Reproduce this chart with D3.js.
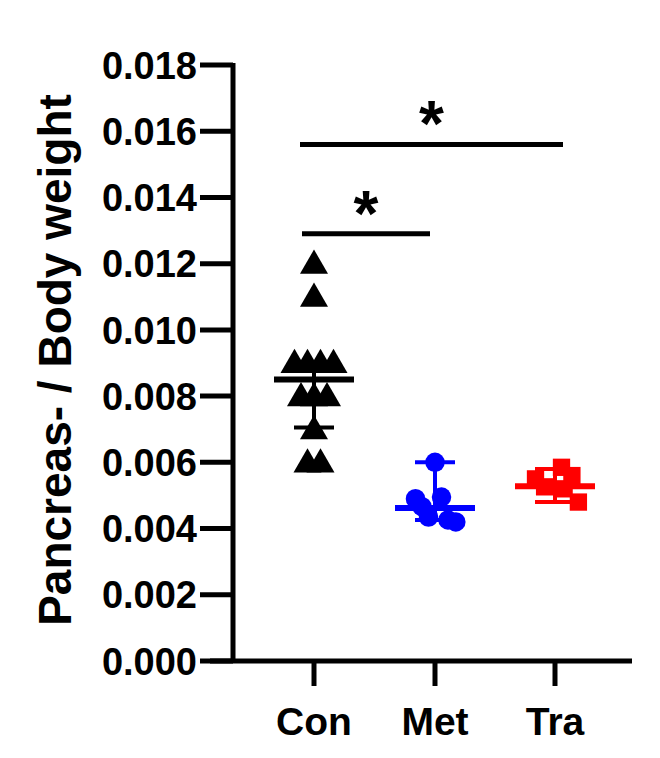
<!DOCTYPE html><html><head><script src="https://cdn.jsdelivr.net/npm/d3@7"></script>
<style>body{margin:0;background:#fff}</style></head><body><svg id="c" width="660" height="758"></svg>
<script>
const categories=["Con","Met","Tra"];
const colors=["#000","#0000ff","#ff0000"];
const conVals=[0.012,0.011,0.009,0.009,0.009,0.009,0.008,0.008,0.008,0.007,0.006,0.006];
const conX=[0,0,-1.5,-0.5,0.5,1.5,-1,0,1,0,-0.5,0.5];
const metVals=[0.006,0.0049,0.00466,0.00435,0.00495,0.00426,0.0042];
const metX=[0,-1.5,-1,-0.5,0.5,1,1.6];
const traVals=[0.00585,0.0055,0.00526,0.0052,0.0056,0.0048];
const traX=[0.5,-1.5,-0.8,0.7,1.3,1.8];
const centers=[0.0085,0.00462,0.00528];
const lows=[0.00705,0.00426,0.0048];
const highs=[0.009,0.006,0.0058];
const yTicks=[0,0.002,0.004,0.006,0.008,0.010,0.012,0.014,0.016,0.018];
const svg=d3.select("#c");
const y=d3.scaleLinear().domain([0,0.018]).range([661,65]);
const x=d3.scaleOrdinal().domain(categories).range([314,435,555]);
const jit=10;
const F="Liberation Sans, Arial";
const ax=svg.append("g").attr("stroke","#000").attr("stroke-width",5);
ax.append("line").attr("x1",233).attr("x2",233).attr("y1",y(0.018)-2).attr("y2",661);
ax.append("line").attr("x1",210).attr("x2",632).attr("y1",661).attr("y2",661);
yTicks.forEach(t=>{ax.append("line").attr("x1",200).attr("x2",233).attr("y1",y(t)).attr("y2",y(t));
 svg.append("text").attr("x",197).attr("y",y(t)).attr("dy","0.36em").attr("text-anchor","end")
 .attr("font-family",F).attr("font-weight","bold").attr("font-size",38).text(t.toFixed(3));});
categories.forEach(c=>{ax.append("line").attr("x1",x(c)).attr("x2",x(c)).attr("y1",661).attr("y2",686);
 svg.append("text").attr("x",x(c)).attr("y",735).attr("text-anchor","middle")
 .attr("font-family",F).attr("font-weight","bold").attr("font-size",39).text(c);});
svg.append("text").attr("transform","translate(71,360) rotate(-90)").attr("text-anchor","middle")
 .attr("font-family",F).attr("font-weight","bold").attr("font-size",46).text("Pancreas- / Body weight");
const groups=[[conVals,conX,d3.symbolTriangle,340],[metVals,metX,d3.symbolCircle,300],[traVals,traX,d3.symbolSquare,300]];
groups.forEach((g,i)=>{const [vals,xs,sym,size]=g;
 vals.forEach((v,j)=>svg.append("path").attr("d",d3.symbol(sym,size)())
 .attr("transform",`translate(${x(categories[i])+xs[j]*jit*1.3},${y(v)+(sym===d3.symbolTriangle?2:0)})`).attr("fill",colors[i]));});
categories.forEach((c,i)=>{const g=svg.append("g").attr("stroke",colors[i]).attr("stroke-width",4);const cx=x(c);
 g.append("line").attr("x1",cx).attr("x2",cx).attr("y1",y(highs[i])).attr("y2",y(lows[i]));
 g.append("line").attr("x1",cx-40).attr("x2",cx+40).attr("y1",y(centers[i])).attr("y2",y(centers[i])).attr("stroke-width",6);
 [highs[i],lows[i]].forEach(v=>g.append("line").attr("x1",cx-20).attr("x2",cx+20).attr("y1",y(v)).attr("y2",y(v)));});
[[0,1,0.0129,302,430],[0,2,0.0156,300,563]].forEach(s=>{
 svg.append("line").attr("x1",s[3]).attr("x2",s[4]).attr("y1",y(s[2])).attr("y2",y(s[2])).attr("stroke","#000").attr("stroke-width",5);
 svg.append("text").attr("x",(s[3]+s[4])/2).attr("y",y(s[2])+2).attr("text-anchor","middle")
 .attr("font-family",F).attr("font-weight","bold").attr("font-size",64).text("*");});
</script></body></html>
